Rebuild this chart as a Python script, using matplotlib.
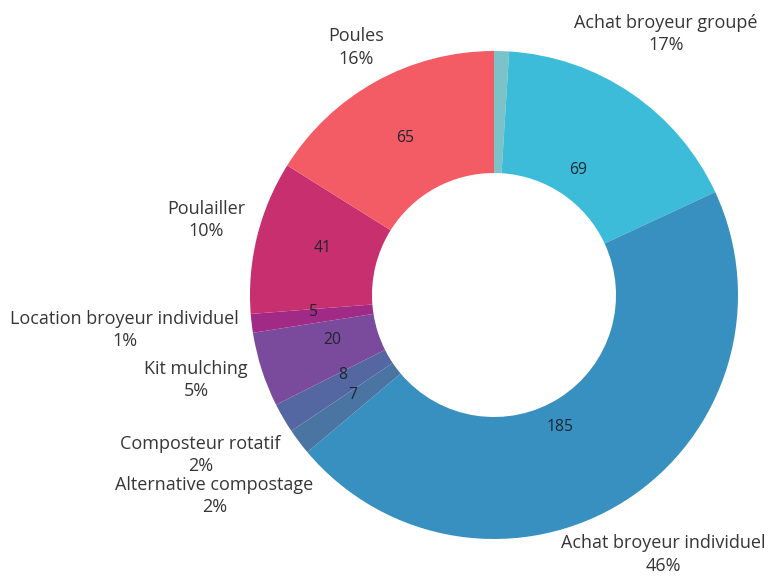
import numpy as np
import matplotlib.pyplot as plt

# Données
categories = ["Autre", "Achat broyeur groupé", "Achat broyeur individuel",
              "Alternative compostage", "Composteur rotatif", "Kit mulching",
              "Location broyeur individuel", "Poulailler", "Poules"]
valeurs = [4, 69, 185, 7, 8, 20, 5, 41, 65]
afficher = [False, True, True, True, True, True, True, True, True]

couleurs = ["#7cc3c9", "#3cbcd9", "#3890c0", "#4a74a2", "#5567a3",
            "#7a4a9c", "#a02a85", "#c82f6e", "#f35b65"]

# placement des étiquettes (distance au centre, décalage angulaire en degrés)
dist_ext = [1.3, 1.28, 1.27, 1.41, 1.37, 1.27, 1.52, 1.22, 1.16]
decal_ext = [0, -0.9, -0.6, 1.3, 1.7, 1.9, 1.3, 0.8, -0.1]
dist_int = [0.75, 0.62, 0.605, 0.71, 0.70, 0.69, 0.745, 0.73, 0.74]
decal_int = [0, -0.3, 5.9, 1.6, 2.3, 2.3, 1.3, 1.5, -0.6]

plt.rcParams['font.family'] = ['Open Sans', 'DejaVu Sans']

fig = plt.figure(figsize=(7.69, 5.79), dpi=100, facecolor="white")
ax = fig.add_axes([0, 0, 1, 1])

wedges, _ = ax.pie(valeurs, colors=couleurs, startangle=90, counterclock=False,
                   radius=1, wedgeprops=dict(width=0.5, edgecolor='none'))

total = sum(valeurs)
for i, w in enumerate(wedges):
    if not afficher[i]:
        continue
    mid = (w.theta1 + w.theta2) / 2
    a = np.deg2rad(mid - decal_int[i])
    ax.text(dist_int[i] * np.cos(a), dist_int[i] * np.sin(a), str(valeurs[i]),
            ha='center', va='center', fontsize=11.3, color="#1e2633")
    a = np.deg2rad(mid - decal_ext[i])
    pct = round(100 * valeurs[i] / total)
    ax.text(dist_ext[i] * np.cos(a), dist_ext[i] * np.sin(a),
            f"{categories[i]}\n{pct}%", ha='center', va='center',
            multialignment='center', linespacing=1.3, fontsize=13, color="#363636")

# centre du donut à (494, 295) px, rayon 244 px
s = 244.0
ax.set_xlim(-494 / s, (769 - 494) / s)
ax.set_ylim(-(579 - 295) / s, 295 / s)
ax.set_aspect('equal')
ax.axis('off')

fig.savefig("out.png", dpi=100, facecolor="white")
